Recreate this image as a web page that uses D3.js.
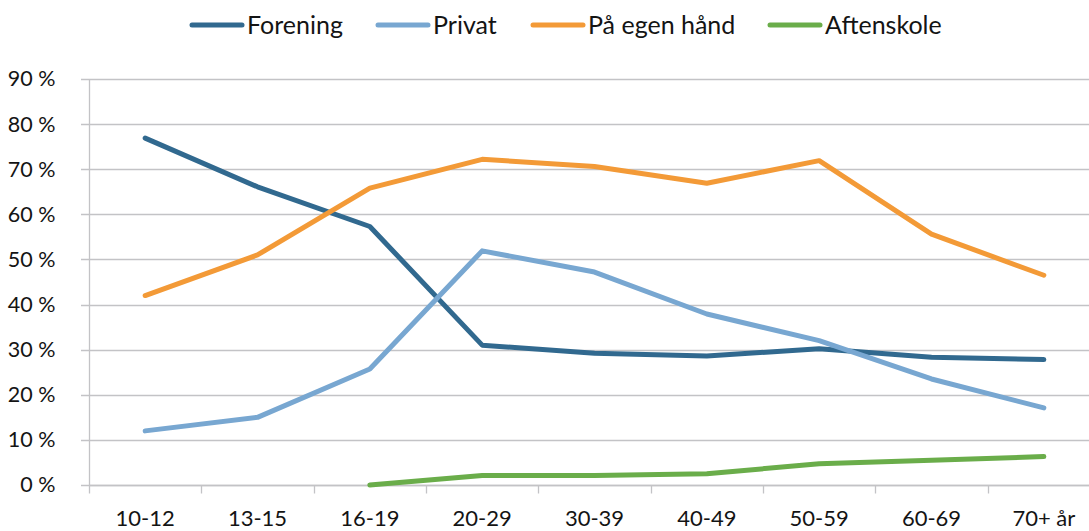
<!DOCTYPE html>
<html>
<head>
<meta charset="utf-8">
<script src="https://cdn.jsdelivr.net/npm/d3@7"></script>
<style>
  body { margin: 0; background: #fff; }
  text { font-family: Lato, "Open Sans", sans-serif; fill: #141414; }
</style>
</head>
<body>
<div id="chart"></div>
<script>
// categories and series
const ageGroups = ["10-12", "13-15", "16-19", "20-29", "30-39", "40-49", "50-59", "60-69", "70+ år"];
const forening = [76.9, 66.1, 57.3, 31.0, 29.2, 28.6, 30.2, 28.3, 27.8];
const privat = [12.0, 15.0, 25.7, 51.9, 47.2, 37.9, 32.0, 23.5, 17.1];
const egenHaand = [42.0, 51.0, 65.8, 72.2, 70.6, 66.9, 71.9, 55.6, 46.5];
const aftenskole = [null, null, 0.0, 2.1, 2.1, 2.5, 4.7, 5.5, 6.3];
const yTicks = [0, 10, 20, 30, 40, 50, 60, 70, 80, 90];

const seriesNames = ["Forening", "Privat", "På egen hånd", "Aftenskole"];
const seriesColors = ["#31698f", "#78a7d1", "#f39a37", "#6aad4a"];
const seriesValues = [forening, privat, egenHaand, aftenskole];

const width = 1089, height = 531;
const svg = d3.select("#chart").append("svg")
  .attr("width", width)
  .attr("height", height);

// scales (plot area runs a little past the right edge, like the original)
const x = d3.scaleBand()
  .domain(ageGroups)
  .range([89, 1100]);
const y = d3.scaleLinear()
  .domain([0, 90])
  .range([485, 79]);

// horizontal gridlines
svg.append("g")
  .selectAll("line")
  .data(yTicks)
  .join("line")
    .attr("x1", 81)
    .attr("x2", width)
    .attr("y1", d => Math.round(y(d)) + 0.5)
    .attr("y2", d => Math.round(y(d)) + 0.5)
    .attr("stroke", "#c3c3c6")
    .attr("stroke-width", 1.3);

// y axis
const yAxis = svg.append("g")
  .attr("transform", "translate(89.5,0)")
  .call(d3.axisLeft(y).tickValues(yTicks).tickSize(8).tickPadding(26).tickFormat(d => d + " %"));
yAxis.select(".domain").attr("stroke", "#c3c3c6").attr("stroke-width", 1.3)
  .attr("d", `M0,${y(90)}V${y(0)}`);
yAxis.selectAll(".tick line").remove();
yAxis.selectAll("text").style("font-size", "21.5px").attr("fill", "#141414");

// x axis, ticks between categories
const xAxis = svg.append("g")
  .attr("transform", `translate(0,${Math.round(y(0)) + 0.5})`);
xAxis.append("line")
  .attr("x1", 89).attr("x2", width)
  .attr("stroke", "#c3c3c6").attr("stroke-width", 1.3);
xAxis.selectAll(".xtick")
  .data(ageGroups.concat(["end"]))
  .join("line")
    .attr("class", "xtick")
    .attr("x1", (d, i) => Math.round(89 + i * x.step()) + 0.5)
    .attr("x2", (d, i) => Math.round(89 + i * x.step()) + 0.5)
    .attr("y1", 0)
    .attr("y2", 8)
    .attr("stroke", "#c3c3c6").attr("stroke-width", 1.3);
xAxis.selectAll(".xlabel")
  .data(ageGroups)
  .join("text")
    .attr("class", "xlabel")
    .attr("x", d => x(d) + x.bandwidth() / 2)
    .attr("y", 40)
    .attr("text-anchor", "middle")
    .style("font-size", "22px")
    .text(d => d);

// lines
const line = d3.line()
  .defined(d => d != null)
  .x((d, i) => x(ageGroups[i]) + x.bandwidth() / 2)
  .y(d => y(d));

svg.append("g")
  .selectAll("path")
  .data(seriesValues)
  .join("path")
    .attr("d", d => line(d))
    .attr("fill", "none")
    .attr("stroke", (d, i) => seriesColors[i])
    .attr("stroke-width", 5)
    .attr("stroke-linecap", "round")
    .attr("stroke-linejoin", "round");

// legend
const legendX = [190, 376, 531, 768];
const legend = svg.append("g")
  .selectAll("g")
  .data(seriesNames)
  .join("g")
    .attr("transform", (d, i) => `translate(${legendX[i]},25)`);
legend.append("line")
  .attr("x1", 2).attr("x2", 52)
  .attr("stroke", (d, i) => seriesColors[i])
  .attr("stroke-width", 5)
  .attr("stroke-linecap", "round");
legend.append("text")
  .attr("x", 57)
  .attr("dy", "0.35em")
  .style("font-size", "25px")
  .text(d => d);
</script>
</body>
</html>
